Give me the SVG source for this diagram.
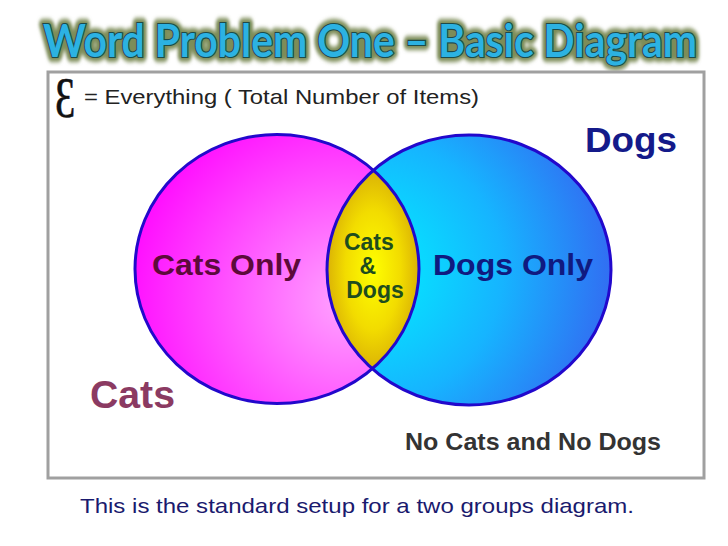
<svg xmlns="http://www.w3.org/2000/svg" width="728" height="546" viewBox="0 0 728 546">
  <defs>
    <radialGradient id="gCats" cx="0.75" cy="0.62" r="0.85">
      <stop offset="0" stop-color="#ffa4ff"/>
      <stop offset="1" stop-color="#ff00ff"/>
    </radialGradient>
    <radialGradient id="gDogs" cx="0.12" cy="0.5" r="1.0">
      <stop offset="0" stop-color="#00f4ff"/>
      <stop offset="0.5" stop-color="#16b4ff"/>
      <stop offset="1" stop-color="#3a58ee"/>
    </radialGradient>
    <radialGradient id="gBoth" cx="0.5" cy="0.5" r="0.6">
      <stop offset="0" stop-color="#ffff00"/>
      <stop offset="0.5" stop-color="#f2dc00"/>
      <stop offset="1" stop-color="#cf9e08"/>
    </radialGradient>
    <filter id="soft" x="-10%" y="-60%" width="120%" height="220%">
      <feGaussianBlur stdDeviation="1.8"/>
    </filter>
  </defs>
  <style>
    .sans { font-family: "Liberation Sans", Arial, sans-serif; }
    .b { font-weight: bold; }
    .outline { fill: none; stroke: #2208cc; stroke-width: 3; }
    .title { font-family: Lato, "Open Sans", sans-serif; font-weight: bold; font-size: 41px; }
    .title-glow { fill: #7d8c58; stroke: #7d8c58; stroke-width: 9; stroke-linejoin: round; }
    .title-face { fill: #2cb2e2; stroke: #1d4a4a; stroke-width: 2; paint-order: stroke; }
  </style>

  <rect width="728" height="546" fill="#ffffff"/>

  <g id="title" transform="translate(0 57) scale(1 1.1) translate(0 -57)">
    <text class="title title-glow" x="43" y="57" textLength="654" lengthAdjust="spacingAndGlyphs" filter="url(#soft)">Word Problem One – Basic Diagram</text>
    <text class="title title-face" x="43" y="57" textLength="654" lengthAdjust="spacingAndGlyphs">Word Problem One – Basic Diagram</text>
  </g>

  <g id="frame">
    <rect x="48" y="72" width="656" height="406" fill="#ffffff" stroke="#a0a0a0" stroke-width="3"/>
  </g>

  <g id="legend">
    <text x="55" y="117" font-family="'Liberation Serif', 'DejaVu Serif', serif" font-size="56" fill="#111" stroke="#111" stroke-width="0.6" transform="translate(55 0) scale(0.72 1) translate(-55 0)">Ɛ</text>
    <text class="sans" x="84" y="104" font-size="21" fill="#222" textLength="395" lengthAdjust="spacingAndGlyphs">= Everything ( Total Number of Items)</text>
  </g>

  <g id="cats-circle">
    <ellipse cx="277" cy="269" rx="142" ry="134.5" fill="url(#gCats)"/>
  </g>
  <g id="dogs-circle">
    <ellipse cx="469" cy="270" rx="142" ry="135" fill="url(#gDogs)"/>
  </g>
  <g id="cats-and-dogs">
    <path d="M373,170.5 A142,135 0 0,1 373,369.5 A142,135 0 0,1 373,170.5 Z" fill="url(#gBoth)"/>
  </g>
  <g id="outlines">
    <ellipse class="outline" cx="277" cy="269" rx="142" ry="134.5"/>
    <ellipse class="outline" cx="469" cy="270" rx="142" ry="135"/>
  </g>

  <g id="labels">
    <text class="sans b" x="152" y="275" font-size="29" fill="#5c0a3a" textLength="149" lengthAdjust="spacingAndGlyphs">Cats Only</text>
    <text class="sans b" x="433" y="275" font-size="29" fill="#101a80" textLength="160" lengthAdjust="spacingAndGlyphs">Dogs Only</text>
    <text class="sans b" font-size="23" fill="#1e4d1e" text-anchor="middle">
      <tspan x="372" y="250">Cats</tspan>
      <tspan x="371" y="274">&amp;</tspan>
      <tspan x="375" y="298">Dogs</tspan>
    </text>
    <text class="sans b" x="585" y="152" font-size="35" fill="#141a8a" textLength="92" lengthAdjust="spacingAndGlyphs">Dogs</text>
    <text class="sans b" x="90" y="408" font-size="38" fill="#8b3a62" textLength="85" lengthAdjust="spacingAndGlyphs">Cats</text>
    <text class="sans b" x="405" y="450" font-size="24" fill="#333333" textLength="256" lengthAdjust="spacingAndGlyphs">No Cats and No Dogs</text>
  </g>

  <g id="caption">
    <text class="sans" x="80" y="513" font-size="21" fill="#1a1a6e" textLength="554" lengthAdjust="spacingAndGlyphs">This is the standard setup for a two groups diagram.</text>
  </g>
</svg>
